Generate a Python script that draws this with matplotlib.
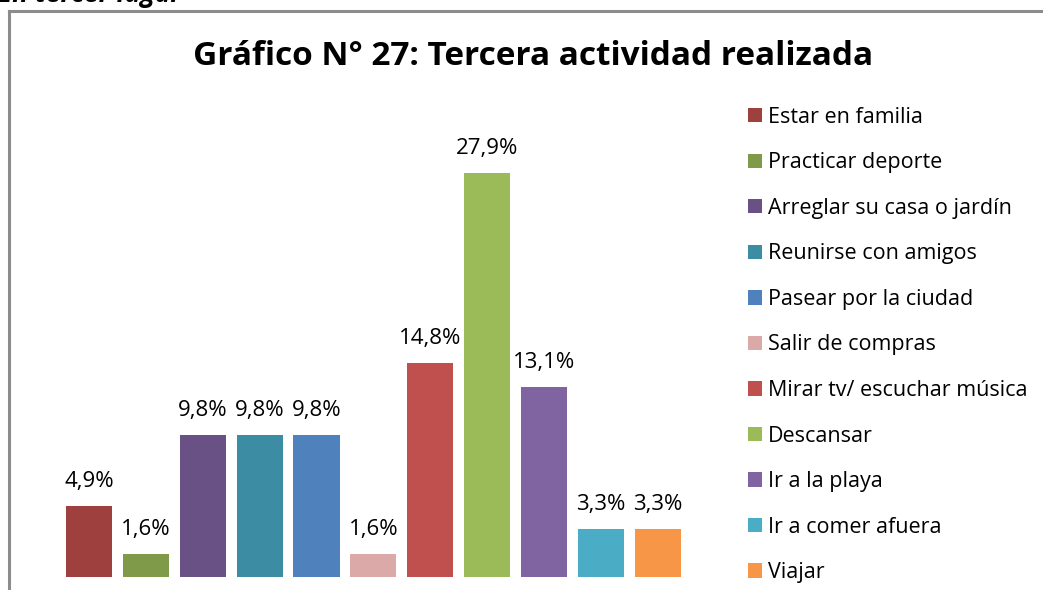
import matplotlib
matplotlib.use("Agg")
import matplotlib.pyplot as plt
from matplotlib.lines import Line2D

plt.rcParams['font.family'] = ['Open Sans', 'DejaVu Sans']

## data
actividades = ["Estar en familia", "Practicar deporte", "Arreglar su casa o jardín",
               "Reunirse con amigos", "Pasear por la ciudad", "Salir de compras",
               "Mirar tv/ escuchar música", "Descansar", "Ir a la playa",
               "Ir a comer afuera", "Viajar"]
porcentajes = [4.9, 1.6, 9.8, 9.8, 9.8, 1.6, 14.8, 27.9, 13.1, 3.3, 3.3]
etiquetas = ["4,9%", "1,6%", "9,8%", "9,8%", "9,8%", "1,6%",
             "14,8%", "27,9%", "13,1%", "3,3%", "3,3%"]
colores = ["#9E413E", "#7F9A48", "#695185", "#3C8DA3", "#4F81BD", "#DBA9A8",
           "#C0504D", "#9BBB59", "#8064A2", "#4BACC6", "#F79646"]

fig = plt.figure(figsize=(10.43, 5.9), dpi=100)

# chart frame (top + left border)
fig.add_artist(Line2D([0.0085, 0.0085], [0, 0.982], color="#8c8c8c", lw=2.2))
fig.add_artist(Line2D([0.0085, 1.0], [0.982, 0.982], color="#8c8c8c", lw=2.2))
fig.text(-0.002, 0.996, "En tercer lugar", fontsize=19, fontweight="bold",
         fontstyle="italic", va="baseline", ha="left")

ax = fig.add_axes([0.058, 0.022, 0.6, 0.737])
x = range(len(porcentajes))
bars = ax.bar(x, porcentajes, width=0.81, color=colores)
for xi, v, t in zip(x, porcentajes, etiquetas):
    ax.annotate(t, (xi, v), xytext=(0, 17.5), textcoords="offset points",
                ha="center", va="center", fontsize=16)
ax.set_xlim(-0.5, 10.5)
ax.set_ylim(0, 30)
ax.axis("off")

fig.text(0.511, 0.905, "Gráfico N° 27: Tercera actividad realizada",
         fontsize=24, fontweight="bold", ha="center", va="center")

fig.legend(bars, actividades, loc="upper left", bbox_to_anchor=(0.717, 0.819),
           frameon=False, fontsize=15.5, handlelength=0.65, handleheight=0.65,
           handletextpad=0.3, labelspacing=1.14, borderpad=0, borderaxespad=0)

fig.savefig("out.png", dpi=100)
